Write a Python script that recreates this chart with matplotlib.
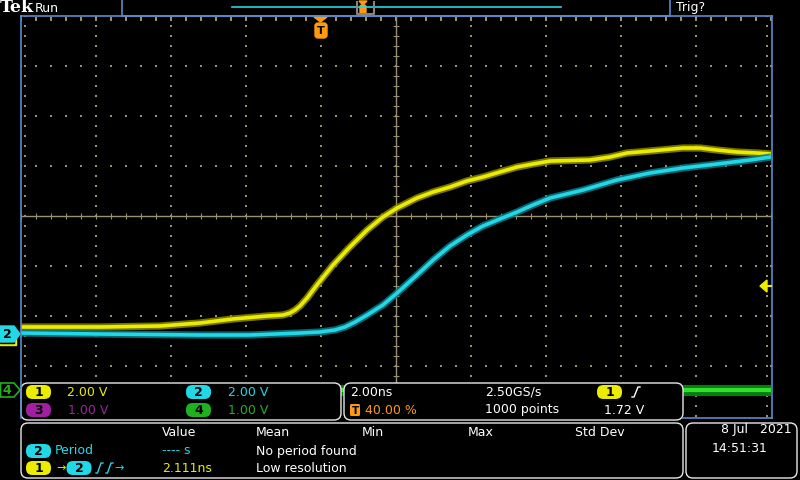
import matplotlib
matplotlib.use("Agg")
import matplotlib.pyplot as plt
import numpy as np
from matplotlib.patches import FancyBboxPatch, Polygon, Rectangle

# ---------------- data (time in ns, vertical position in screen divisions) -------------
ch1_t = [-10.00, -7.89, -6.29, -5.23, -4.35, -3.44, -3.01, -2.83, -2.69, -2.56, -2.37,
         -2.11, -1.68, -1.23, -0.77, -0.35, 0.03, 0.56, 0.99, 1.44, 1.89, 2.32, 2.77,
         3.23, 3.65, 4.11, 5.17, 5.71, 6.16, 6.77, 7.65, 8.11, 8.56, 9.09, 9.63, 10.00]
ch1_div = [-2.22, -2.22, -2.20, -2.14, -2.06, -2.00, -1.98, -1.94, -1.88, -1.80, -1.64,
           -1.38, -0.98, -0.62, -0.28, -0.02, 0.16, 0.36, 0.48, 0.58, 0.70, 0.78, 0.88,
           0.98, 1.04, 1.10, 1.12, 1.18, 1.26, 1.30, 1.36, 1.36, 1.32, 1.28, 1.26, 1.24]
ch2_t = [-10.00, -7.89, -5.23, -3.89, -2.56, -2.03, -1.63, -1.36, -1.09, -0.77, -0.35,
         0.03, 0.56, 0.99, 1.44, 1.89, 2.32, 2.77, 3.23, 3.65, 4.11, 4.99, 5.89, 6.77,
         7.65, 8.56, 9.44, 10.00]
ch2_div = [-2.34, -2.36, -2.38, -2.38, -2.34, -2.32, -2.28, -2.22, -2.12, -1.98, -1.78,
           -1.54, -1.18, -0.88, -0.60, -0.38, -0.20, -0.06, 0.08, 0.22, 0.36, 0.52, 0.72,
           0.86, 0.96, 1.04, 1.12, 1.18]
ch4_t = [-10.0, -5.0, 0.0, 5.0, 10.0]
ch4_div = [-3.48, -3.48, -3.48, -3.48, -3.48]

ch_scales = ["2.00 V", "2.00 V", "1.00 V", "1.00 V"]
timebase = "2.00ns"
trig_pos = "40.00 %"
sample_rate = "2.50GS/s"
record_len = "1000 points"
trig_level = "1.72 V"
meas_headers = ["Value", "Mean", "Min", "Max", "Std Dev"]
meas1 = ["Period", "---- s", "No period found"]
meas2 = ["2.111ns", "Low resolution"]
date_str = "8 Jul   2021"
time_str = "14:51:31"

YEL = "#ecec00"
CYA = "#22d8e6"
PUR = "#a020a0"
GRN = "#20b020"
ORG = "#ff9a10"
BLUE = "#5a8ccc"
GRID = "#9a9072"
FS = 9
DOT = 1.0

fig = plt.figure(figsize=(8, 4.8), dpi=100, facecolor="black")
ax = fig.add_axes([21 / 800, (480 - 416) / 480, 750 / 800, 400 / 480], zorder=1)
ax.set_facecolor("black")
ax.set_xlim(-10, 10)
ax.set_ylim(-4, 4)
ax.axis("off")

# graticule (time axis: 2 ns/div)
xd = np.arange(-10, 10.001, 0.4)
yd = np.arange(-4, 4.001, 0.2)
for k in range(-4, 5):
    if k == 0:
        continue
    ax.scatter(np.full_like(yd, 2 * k), yd, s=DOT, marker="s", c=GRID, lw=0)
for k in range(-3, 4):
    if k == 0:
        continue
    ax.scatter(xd, np.full_like(xd, k), s=DOT, marker="s", c=GRID, lw=0)
# edge ticks
ax.scatter(xd, np.full_like(xd, 3.97), s=DOT, marker="s", c=GRID, lw=0)
ax.scatter(xd, np.full_like(xd, 3.92), s=DOT, marker="s", c=GRID, lw=0)
ax.scatter(np.full_like(yd, -9.88), yd, s=DOT, marker="s", c=GRID, lw=0)
ax.scatter(np.full_like(yd, 9.88), yd, s=DOT, marker="s", c=GRID, lw=0)
# center cross with minor ticks
ax.axhline(0, color=GRID, lw=1.0)
ax.axvline(0, color=GRID, lw=1.0)
ax.scatter(xd, np.zeros_like(xd), s=22, marker="|", c=GRID, lw=0.8)
ax.scatter(np.zeros_like(yd), yd, s=22, marker="_", c=GRID, lw=0.8)

# traces
ax.plot(ch4_t, ch4_div, color="#0a7a0a", lw=8, solid_capstyle="butt")
ax.plot(ch4_t, ch4_div, color="#30e030", lw=3, solid_capstyle="butt")
for t, d, c_out, c_in in [(ch1_t, ch1_div, "#8a8a00", YEL), (ch2_t, ch2_div, "#0a7a86", CYA)]:
    ax.plot(t, d, color=c_out, lw=5.2, alpha=0.85, solid_joinstyle="round",
            solid_capstyle="butt")
    ax.plot(t, d, color=c_in, lw=2.6, solid_joinstyle="round", solid_capstyle="butt")

# ---------------- UI overlay in pixel coordinates ----------------
ui = fig.add_axes([0, 0, 1, 1], zorder=5)
ui.set_xlim(0, 800)
ui.set_ylim(480, 0)
ui.axis("off")
ui.patch.set_alpha(0)

# borders of waveform area
ui.plot([20.5, 20.5], [16, 418], color=BLUE, lw=1.2)
ui.plot([20.5, 771.5], [16, 16], color=BLUE, lw=1.2)
ui.plot([771.5, 771.5], [16, 418], color=BLUE, lw=1.2)
ui.plot([683, 771.5], [418, 418], color=BLUE, lw=1.2)

# top bar
ui.text(0, 8, "Tek", color="white", fontsize=12.5, fontweight="bold", family="DejaVu Serif",
        va="center", ha="left")
ui.text(35, 8, "Run", color="white", fontsize=FS, va="center", ha="left")
ui.add_patch(Rectangle((121.5, -1), 548.5, 17, fill=False, ec=BLUE, lw=1.2))
ui.plot([232, 561], [7, 7], color=CYA, lw=1.2)
ui.plot([357, 357, 374, 374], [2, 14, 14, 2], color="#8a8478", lw=1.5)
ui.add_patch(Polygon([[359, 1], [367, 1], [363, 5]], closed=True, color=ORG))
ui.add_patch(FancyBboxPatch((360, 5), 6, 10, boxstyle="round,pad=0,rounding_size=2", color=ORG))
ui.text(676, 8, "Trig?", color="white", fontsize=FS, va="center", ha="left")

# trigger position marker
ui.add_patch(Polygon([[314, 17], [327, 17], [320.5, 22]], closed=True, color=ORG))
ui.add_patch(FancyBboxPatch((315, 23), 12, 15, boxstyle="round,pad=0,rounding_size=3", color=ORG))
ui.text(321, 31, "T", color="black", fontsize=8, fontweight="bold", va="center", ha="center")

# left channel markers
ui.add_patch(Polygon([[0, 337], [16, 337], [16, 345], [0, 345]], closed=True, color=YEL))
ui.add_patch(Polygon([[0, 343], [14, 343], [14, 340], [0, 340]], closed=True, color="black"))
ui.add_patch(Polygon([[0, 326], [14, 326], [20, 334], [14, 342], [0, 342]], closed=True,
                     color=CYA))
ui.text(7, 334.5, "2", color="black", fontsize=9, fontweight="bold", va="center", ha="center")
ui.add_patch(Polygon([[0.5, 383], [14, 383], [20, 390], [14, 397], [0.5, 397]], closed=True,
                     fill=False, ec=GRN, lw=1.2))
ui.text(7, 390.5, "4", color=GRN, fontsize=9, fontweight="bold", va="center", ha="center")

# trigger level arrow
ui.add_patch(Polygon([[760, 286], [767, 280], [767, 292]], closed=True, color=YEL))
ui.plot([766, 771], [286, 286], color=YEL, lw=1.5)


def panel(x, y, w, h):
    ui.add_patch(FancyBboxPatch((x, y), w, h, boxstyle="round,pad=0,rounding_size=7",
                                fc="black", ec="#e8e8e8", lw=1.0))


def badge(cx, cy, label, color, w=25, h=14, tc="black"):
    ui.add_patch(FancyBboxPatch((cx - w / 2, cy - h / 2), w, h,
                                boxstyle="round,pad=0,rounding_size=6.5", fc=color, ec="none"))
    ui.text(cx, cy + 0.5, label, color=tc, fontsize=9, fontweight="bold", va="center",
            ha="center")


# channel panel
panel(21, 383, 320, 37)
badge(38.5, 392, "1", YEL)
ui.text(67, 392, ch_scales[0], color=YEL, fontsize=FS, va="center")
badge(198.5, 392, "2", CYA)
ui.text(228, 392, ch_scales[1], color=CYA, fontsize=FS, va="center")
badge(38.5, 410, "3", PUR)
ui.text(68, 410, ch_scales[2], color=PUR, fontsize=FS, va="center")
badge(198.5, 410, "4", GRN)
ui.text(228, 410, ch_scales[3], color=GRN, fontsize=FS, va="center")

# horizontal / trigger panel
panel(344, 383, 339, 37)
ui.text(350, 392, timebase, color="white", fontsize=FS, va="center")
ui.add_patch(FancyBboxPatch((350, 404), 10, 12, boxstyle="round,pad=0,rounding_size=1.5",
                            fc=ORG, ec="none"))
ui.text(355, 410.5, "T", color="black", fontsize=7.5, fontweight="bold", va="center",
        ha="center")
ui.text(365, 410, trig_pos, color=ORG, fontsize=FS, va="center")
ui.text(485, 392, sample_rate, color="white", fontsize=FS, va="center")
ui.text(485, 410, record_len, color="white", fontsize=FS, va="center")
badge(609.5, 392, "1", YEL)
ui.plot([632, 634, 638, 640], [397, 397, 387, 387], color="white", lw=1.0)
ui.text(604, 410, trig_level, color="white", fontsize=FS, va="center")

# measurement panel
panel(21, 423, 662, 55)
for hx, lab in zip([162, 256, 362, 468, 575], meas_headers):
    ui.text(hx, 433, lab, color="white", fontsize=FS, va="center")
badge(38.5, 451, "2", CYA)
ui.text(55, 451, meas1[0], color=CYA, fontsize=FS, va="center")
ui.text(162, 451, meas1[1], color=CYA, fontsize=FS, va="center")
ui.text(256, 451, meas1[2], color="white", fontsize=FS, va="center")
badge(38.5, 468, "1", YEL)
ui.text(56, 468, "\u2192", color=YEL, fontsize=8, va="center")
badge(79, 468, "2", CYA)
for ox in (96, 106):
    ui.plot([ox, ox + 1.5, ox + 5, ox + 7], [473, 473, 463, 463], color=CYA, lw=1.0)
ui.text(114, 468, "\u2192", color=CYA, fontsize=8, va="center")
ui.text(162, 468, meas2[0], color=YEL, fontsize=FS, va="center")
ui.text(256, 468, meas2[1], color="white", fontsize=FS, va="center")

# date panel
panel(686, 423, 111, 55)
ui.text(792, 429, date_str, color="white", fontsize=FS, va="center", ha="right")
ui.text(712, 449, time_str, color="white", fontsize=FS, va="center")

fig.savefig("out.png", dpi=100, facecolor="black")
